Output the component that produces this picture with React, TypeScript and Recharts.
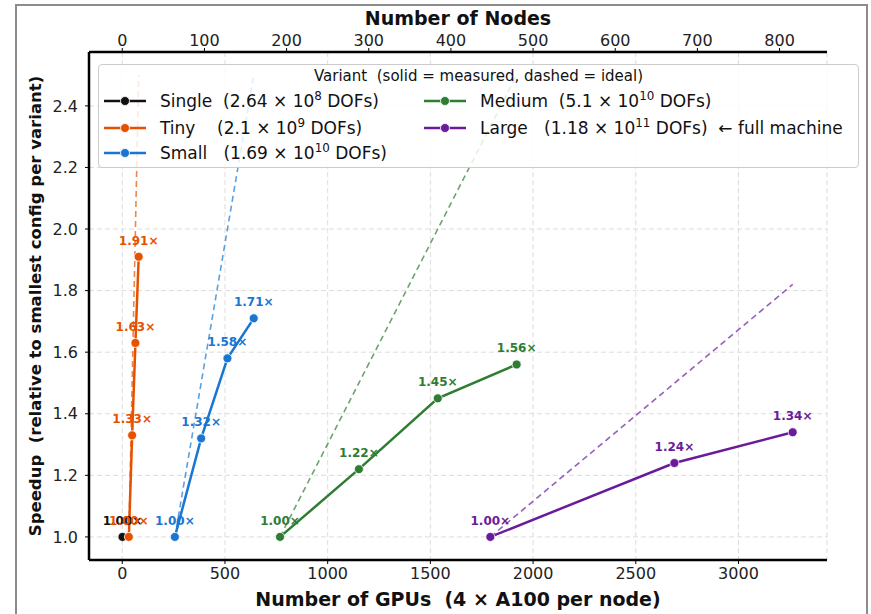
import React from "react";
import {
  ComposedChart,
  Line,
  XAxis,
  YAxis,
  CartesianGrid,
  LabelList,
} from "recharts";

// measured points: GPUs vs speedup (relative to smallest config of each variant)
const singleData = [{ gpus: 1, speedup: 1.0 }];
const tinyData = [
  { gpus: 32, speedup: 1.0 },
  { gpus: 48, speedup: 1.33 },
  { gpus: 64, speedup: 1.63 },
  { gpus: 80, speedup: 1.91 },
];
const smallData = [
  { gpus: 256, speedup: 1.0 },
  { gpus: 384, speedup: 1.32 },
  { gpus: 512, speedup: 1.58 },
  { gpus: 640, speedup: 1.71 },
];
const mediumData = [
  { gpus: 768, speedup: 1.0 },
  { gpus: 1152, speedup: 1.22 },
  { gpus: 1536, speedup: 1.45 },
  { gpus: 1920, speedup: 1.56 },
];
const largeData = [
  { gpus: 1792, speedup: 1.0 },
  { gpus: 2688, speedup: 1.24 },
  { gpus: 3264, speedup: 1.34 },
];

// ideal (linear) scaling lines, start and end
const tinyIdeal = [{ gpus: 32, speedup: 1.0 }, { gpus: 80, speedup: 2.5 }];
const smallIdeal = [{ gpus: 256, speedup: 1.0 }, { gpus: 640, speedup: 2.5 }];
const mediumIdeal = [{ gpus: 768, speedup: 1.0 }, { gpus: 1920, speedup: 2.5 }];
const largeIdeal = [{ gpus: 1792, speedup: 1.0 }, { gpus: 3264, speedup: 1.82 }];

const gpuTicks = [0, 500, 1000, 1500, 2000, 2500, 3000];
const nodeTicks = [0, 100, 200, 300, 400, 500, 600, 700, 800];
const speedupTicks = [1.0, 1.2, 1.4, 1.6, 1.8, 2.0, 2.2, 2.4];
const GPUS_PER_NODE = 4;

const variantNames = ["Single", "Tiny", "Small", "Medium", "Large"];
const dofMantissa = ["2.64", "2.1", "1.69", "5.1", "1.18"];
const dofExponent = ["8", "9", "10", "10", "11"];
const nameGap = ["  ", "    ", "   ", "  ", "   "];
const COLORS = ["#111111", "#e65100", "#1976d2", "#2e7d32", "#6a1b9a"];

const FONT = "DejaVu Sans";
const X_DOMAIN: [number, number] = [-162, 3431];
const Y_DOMAIN: [number, number] = [0.925, 2.575];

const pointLabel = (color: string) => (props: any) => {
  const { x, y, value } = props;
  return (
    <text
      x={x}
      y={y - 12}
      textAnchor="middle"
      fill={color}
      fontSize={12}
      fontWeight="bold"
      fontFamily={FONT}
    >
      {Number(value).toFixed(2)}×
    </text>
  );
};

function LegendBox() {
  const slots = [
    { col: 0, row: 0 },
    { col: 0, row: 1 },
    { col: 0, row: 2 },
    { col: 1, row: 0 },
    { col: 1, row: 1 },
  ];
  const rowY = [36, 63, 88];
  return (
    <div
      style={{
        position: "absolute",
        left: 98,
        top: 64,
        width: 761,
        height: 104,
        boxSizing: "border-box",
        border: "1px solid #cccccc",
        borderRadius: 4,
        background: "rgba(255,255,255,0.82)",
        fontFamily: FONT,
        color: "#111",
      }}
    >
      <div
        style={{
          position: "absolute",
          left: 0,
          right: 0,
          top: 2,
          textAlign: "center",
          fontSize: 15,
          whiteSpace: "pre",
          lineHeight: "18px",
        }}
      >
        Variant  (solid = measured, dashed = ideal)
      </div>
      {variantNames.map((name, i) => {
        const s = slots[i];
        const left = s.col === 0 ? 5 : 325;
        const top = rowY[s.row];
        return (
          <div key={name}>
            <svg
              width={42}
              height={12}
              style={{ position: "absolute", left, top: top - 6 }}
            >
              <line x1={0} y1={6} x2={42} y2={6} stroke={COLORS[i]} strokeWidth={2.5} />
              <circle cx={21} cy={6} r={4.5} fill={COLORS[i]} stroke="#fff" strokeWidth={0.8} />
            </svg>
            <div
              style={{
                position: "absolute",
                left: left + 56,
                top: top - 11,
                fontSize: 17,
                lineHeight: "22px",
                whiteSpace: "pre",
              }}
            >
              {name}
              {nameGap[i]}({dofMantissa[i]} × 10
              <sup style={{ fontSize: "0.7em", verticalAlign: "super", lineHeight: 0 }}>
                {dofExponent[i]}
              </sup>{" "}
              DOFs){name === "Large" ? "  ← full machine" : ""}
            </div>
          </div>
        );
      })}
    </div>
  );
}

export default function App() {
  const measured = [singleData, tinyData, smallData, mediumData, largeData];
  const ideals = [null, tinyIdeal, smallIdeal, mediumIdeal, largeIdeal];
  const axisTick = { fontSize: 16, fill: "#222", fontFamily: FONT };
  const titleStyle = { fontWeight: "bold", fill: "#111", fontFamily: FONT };
  return (
    <div
      style={{
        position: "absolute",
        left: 0,
        top: 0,
        width: 871,
        height: 614,
        background: "#fff",
        overflow: "hidden",
      }}
    >
      <div
        style={{
          position: "absolute",
          left: 15,
          top: 4,
          width: 853,
          height: 640,
          border: "2px solid #8c8c8c",
          boxSizing: "border-box",
        }}
      />
      <ComposedChart
        width={871}
        height={614}
        margin={{ top: 22, right: 44, bottom: 24, left: 29 }}
        style={{ position: "absolute", left: 0, top: 0 }}
      >
        <CartesianGrid stroke="#dddddd" strokeDasharray="5 3" />
        <XAxis
          xAxisId={0}
          dataKey="gpus"
          type="number"
          domain={X_DOMAIN}
          allowDataOverflow
          ticks={gpuTicks}
          height={30}
          axisLine={{ stroke: "#000", strokeWidth: 2.5 }}
          tickLine={{ stroke: "#000" }}
          tickSize={4}
          tickMargin={4}
          tick={axisTick}
          label={{
            value: "Number of GPUs\u00A0 (4 × A100 per node)",
            position: "bottom",
            offset: 3,
            style: { ...titleStyle, fontSize: 19 },
          }}
        />
        <XAxis
          xAxisId="top"
          orientation="top"
          dataKey={(d: any) => d.gpus / GPUS_PER_NODE}
          type="number"
          domain={[X_DOMAIN[0] / GPUS_PER_NODE, X_DOMAIN[1] / GPUS_PER_NODE]}
          allowDataOverflow
          ticks={nodeTicks}
          height={30}
          axisLine={{ stroke: "#000", strokeWidth: 2.5 }}
          tickLine={{ stroke: "#000" }}
          tickSize={4}
          tickMargin={2}
          tick={axisTick}
          label={{
            value: "Number of Nodes",
            position: "top",
            offset: -3,
            style: { ...titleStyle, fontSize: 19 },
          }}
        />
        <YAxis
          type="number"
          domain={Y_DOMAIN}
          allowDataOverflow
          ticks={speedupTicks}
          width={60}
          axisLine={{ stroke: "#000", strokeWidth: 2.5 }}
          tickLine={{ stroke: "#000" }}
          tickSize={4}
          tickMargin={7}
          tickFormatter={(v: number) => v.toFixed(1)}
          tick={axisTick}
          label={{
            value: "Speedup\u00A0 (relative to smallest config per variant)",
            angle: -90,
            position: "insideLeft",
            offset: 6,
            style: { ...titleStyle, fontSize: 16.5, textAnchor: "middle" },
          }}
        />
        {/* invisible series so the node axis on top gets drawn */}
        <Line
          xAxisId="top"
          data={largeData}
          dataKey="speedup"
          stroke="none"
          dot={false}
          activeDot={false}
          legendType="none"
          isAnimationActive={false}
        />
        {ideals.map((d, i) =>
          d ? (
            <Line
              key={"ideal-" + i}
              data={d}
              dataKey="speedup"
              stroke={COLORS[i]}
              strokeWidth={1.6}
              strokeOpacity={0.7}
              strokeDasharray="6 4"
              dot={false}
              activeDot={false}
              isAnimationActive={false}
            />
          ) : null
        )}
        {measured.map((d, i) => (
          <Line
            key={"m-" + i}
            data={d}
            dataKey="speedup"
            stroke={COLORS[i]}
            strokeWidth={2.5}
            dot={{ r: 4.5, fill: COLORS[i], stroke: "#fff", strokeWidth: 0.8 }}
            activeDot={false}
            isAnimationActive={false}
          >
            <LabelList dataKey="speedup" content={pointLabel(COLORS[i])} />
          </Line>
        ))}
      </ComposedChart>
      <LegendBox />
    </div>
  );
}
